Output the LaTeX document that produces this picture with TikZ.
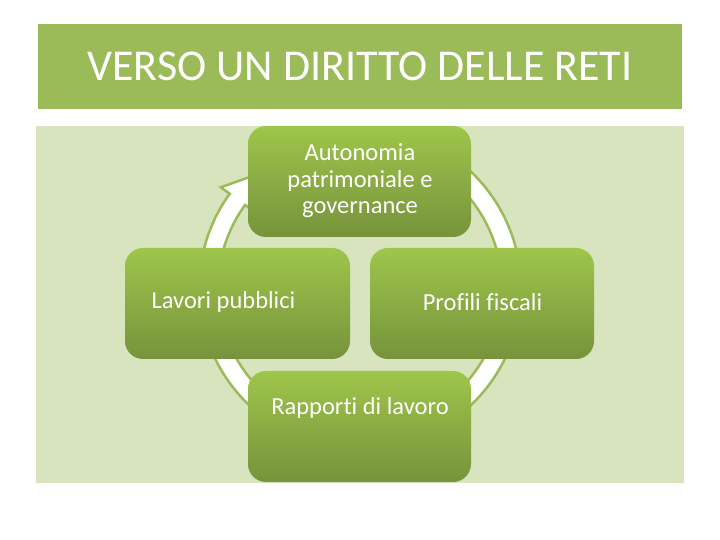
\documentclass[tikz,border=0pt]{standalone}
\usepackage{fontspec}
\setmainfont{Carlito}[Ligatures={NoCommon}]
\definecolor{titlegreen}{HTML}{9BBB59}
\definecolor{bggreen}{HTML}{D7E4BD}
\definecolor{boxtop}{HTML}{9FC54B}
\definecolor{boxbot}{HTML}{76933C}
\definecolor{ringc}{HTML}{9BBB59}
\tikzset{
  boxnode/.style={rounded corners=18pt, top color=boxtop, bottom color=boxbot, draw=none, inner sep=0pt},
  boxtext/.style={text=white, font=\fontsize{24.5}{26.5}\selectfont, align=center, inner sep=0pt},
}
\begin{document}
\begin{tikzpicture}[x=1pt,y=1pt]
\useasboundingbox (0,0) rectangle (720,540);
\fill[white] (0,0) rectangle (720,540);
% title band
\fill[titlegreen] (38,431) rectangle (682,516);
\node[text=white, font=\fontsize{44}{50}\selectfont, inner sep=0pt] (title) at (360,474) {VERSO UN DIRITTO DELLE RETI};
% background
\fill[bggreen] (36,57) rectangle (684,414);
% ring arrow
\begin{scope}[shift={(360,251.6)}]
\fill[white, draw=ringc, line width=2.5pt, line join=miter]
  (80:161) arc[start angle=80, end angle=-216, radius=161]
  -- (-216:172) -- (-230:151.5) -- (-216:131) -- (-216:142)
  arc[start angle=-216, end angle=80, radius=142] -- cycle;
\end{scope}
% boxes
\path[boxnode] (248,303) rectangle (471,414);
\path[boxnode] (125,181) rectangle (350,292);
\path[boxnode] (370,181) rectangle (594,292);
\path[boxnode] (248,58) rectangle (471,169);
\node[boxtext] (t1) at (360,359) {Autonomia\\patrimoniale e\\governance};
\node[boxtext] (t2) at (223.5,238) {Lavori pubblici};
\node[boxtext] (t3) at (482.5,238) {Profili fiscali};
\node[boxtext] (t4) at (360,132) {Rapporti di lavoro};
\end{tikzpicture}
\end{document}
